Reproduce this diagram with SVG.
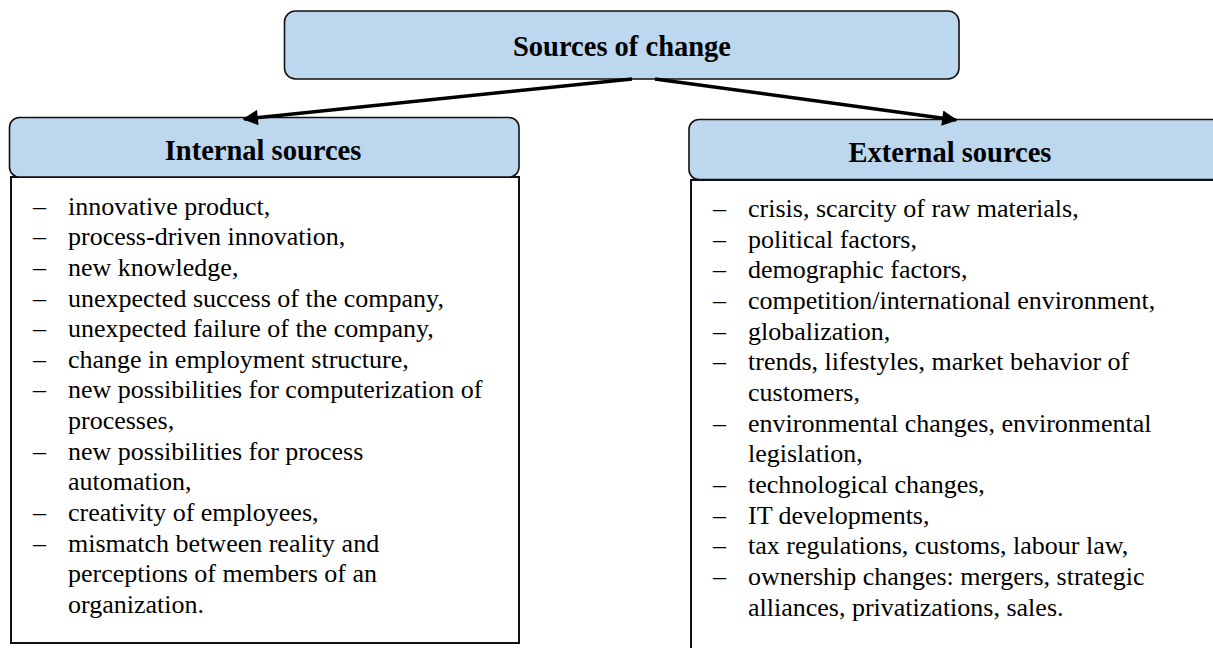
<svg xmlns="http://www.w3.org/2000/svg" width="1213" height="648" viewBox="0 0 1213 648">
  <style>
    .hdr { fill: #BDD7EE; stroke: #111; stroke-width: 1.6; }
    .body { fill: #FFFFFF; stroke: #111; stroke-width: 2; }
    .title { font-family: 'Liberation Serif', 'DejaVu Serif', serif; font-weight: bold; font-size: 28.5px; fill: #000; text-anchor: middle; }
    .item { font-family: 'Liberation Serif', 'DejaVu Serif', serif; font-size: 26px; fill: #000; }
    .conn { stroke: #000; stroke-width: 3.5; fill: none; marker-end: url(#head); }
  </style>
  <defs>
    <marker id="head" viewBox="0 0 10 10" refX="9" refY="5" markerWidth="6" markerHeight="4.4" orient="auto" markerUnits="strokeWidth">
      <path d="M0,0 L10,5 L0,10 Z" fill="#000"/>
    </marker>
  </defs>

  <!-- root node -->
  <g id="sources-of-change">
    <rect class="hdr" x="284.5" y="11" width="674.5" height="68" rx="11" ry="11"/>
    <text class="title" x="622" y="56">Sources of change</text>
  </g>

  <!-- internal sources -->
  <g id="internal-sources">
    <rect class="body" x="11" y="177" width="508" height="466"/>
    <rect class="hdr" x="9.5" y="117.5" width="509.5" height="59.5" rx="10" ry="10"/>
    <text class="title" x="263" y="160">Internal sources</text>
    <g class="item" transform="translate(0,3.5)">
      <text x="33" y="211">–</text><text x="68" y="211">innovative product,</text>
      <text x="33" y="241.7">–</text><text x="68" y="241.7">process-driven innovation,</text>
      <text x="33" y="272.3">–</text><text x="68" y="272.3">new knowledge,</text>
      <text x="33" y="303">–</text><text x="68" y="303">unexpected success of the company,</text>
      <text x="33" y="333.6">–</text><text x="68" y="333.6">unexpected failure of the company,</text>
      <text x="33" y="364.3">–</text><text x="68" y="364.3">change in employment structure,</text>
      <text x="33" y="394.9">–</text><text x="68" y="394.9">new possibilities for computerization of</text>
      <text x="68" y="425.6">processes,</text>
      <text x="33" y="456.2">–</text><text x="68" y="456.2">new possibilities for process</text>
      <text x="68" y="486.9">automation,</text>
      <text x="33" y="517.5">–</text><text x="68" y="517.5">creativity of employees,</text>
      <text x="33" y="548.2">–</text><text x="68" y="548.2">mismatch between reality and</text>
      <text x="68" y="578.8">perceptions of members of an</text>
      <text x="68" y="609.5">organization.</text>
    </g>
  </g>

  <!-- external sources -->
  <g id="external-sources">
    <rect class="body" x="691" y="180" width="540" height="480"/>
    <rect class="hdr" x="689" y="119.5" width="540" height="60" rx="10" ry="10"/>
    <text class="title" x="950" y="162">External sources</text>
    <g class="item" transform="translate(0,3.5)">
      <text x="713" y="213.5">–</text><text x="748" y="213.5">crisis, scarcity of raw materials,</text>
      <text x="713" y="244.2">–</text><text x="748" y="244.2">political factors,</text>
      <text x="713" y="274.8">–</text><text x="748" y="274.8">demographic factors,</text>
      <text x="713" y="305.5">–</text><text x="748" y="305.5">competition/international environment,</text>
      <text x="713" y="336.1">–</text><text x="748" y="336.1">globalization,</text>
      <text x="713" y="366.8">–</text><text x="748" y="366.8">trends, lifestyles, market behavior of</text>
      <text x="748" y="397.4">customers,</text>
      <text x="713" y="428.1">–</text><text x="748" y="428.1">environmental changes, environmental</text>
      <text x="748" y="458.7">legislation,</text>
      <text x="713" y="489.4">–</text><text x="748" y="489.4">technological changes,</text>
      <text x="713" y="520">–</text><text x="748" y="520">IT developments,</text>
      <text x="713" y="550.7">–</text><text x="748" y="550.7">tax regulations, customs, labour law,</text>
      <text x="713" y="581.3">–</text><text x="748" y="581.3">ownership changes: mergers, strategic</text>
      <text x="748" y="612">alliances, privatizations, sales.</text>
    </g>
  </g>

  <!-- connectors -->
  <g id="connectors">
    <line class="conn" x1="632" y1="79" x2="244" y2="119"/>
    <line class="conn" x1="655" y1="79" x2="956" y2="120"/>
  </g>
</svg>
